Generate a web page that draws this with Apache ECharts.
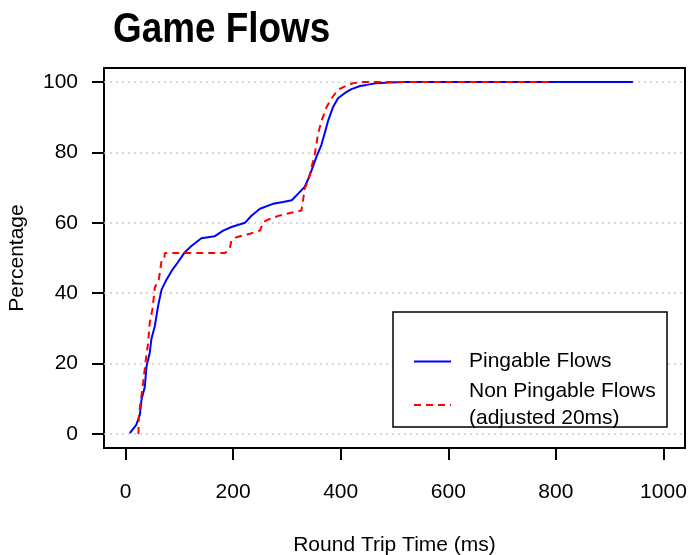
<!DOCTYPE html>
<html>
<head>
<meta charset="utf-8">
<script src="https://cdn.jsdelivr.net/npm/echarts@6/dist/echarts.min.js"></script>
<style>
html,body{margin:0;padding:0;background:#fff;}
#chart{width:688px;height:555px;}
</style>
</head>
<body>
<div id="chart"></div>
<script>
const titleText = 'Game Flows';
const xAxisTitle = 'Round Trip Time (ms)';
const yAxisTitle = 'Percentage';
const seriesNames = ['Pingable Flows', 'Non Pingable Flows\n(adjusted 20ms)'];
const xTicks = [0, 200, 400, 600, 800, 1000];
const yTicks = [0, 20, 40, 60, 80, 100];

const pingX = [8, 20, 26.6, 29.7, 36, 39, 45, 48, 54.5, 60.6, 67, 75, 86, 96, 110, 123, 141, 166, 181.5, 197, 222, 234, 250, 274, 293, 309, 321, 333, 340, 346, 355, 364, 371, 377, 386, 395, 408, 420, 436, 448, 467, 491, 520, 943];
const pingY = [0.2, 2.6, 5.4, 9.7, 13.5, 19.2, 23, 26.9, 30.7, 36.4, 41, 43.5, 46.4, 48.5, 51.6, 53.5, 55.6, 56.2, 57.8, 58.8, 60, 62, 64, 65.4, 65.9, 66.4, 68.3, 70.2, 72.6, 75, 78.8, 82.1, 85.9, 89.2, 93, 95.4, 96.9, 98, 98.9, 99.2, 99.7, 99.9, 100, 100];

const nonPingX = [24, 24.7, 28.5, 32.8, 37, 42, 45, 50, 53, 54.5, 62, 67, 72, 73, 185, 194, 197, 206, 231, 250, 256, 268, 287, 312, 327, 330, 333, 340, 352, 358, 364, 374, 383, 395, 408, 423, 439, 795];
const nonPingY = [0, 5, 9.7, 14.5, 20.2, 25.9, 31.6, 35.4, 35.9, 41.6, 44, 49.2, 49.7, 51.4, 51.4, 52.8, 55, 55.9, 56.9, 57.8, 60.2, 61.1, 62.1, 63, 63.5, 66.4, 69.7, 72.1, 79.7, 85.4, 88.8, 93, 95.4, 97.8, 98.8, 99.7, 100, 100];

const pairs = (xs, ys) => xs.map((x, i) => [x, ys[i]]);
const FONT = 'Liberation Sans, Arial, sans-serif';

const chart = echarts.init(document.getElementById('chart'), null, {renderer: 'canvas'});
chart.setOption({
  animation: false,
  backgroundColor: '#ffffff',
  grid: {
    left: 104, top: 68, width: 581, height: 380,
    show: true, borderColor: '#000', borderWidth: 2, backgroundColor: 'transparent',
    containLabel: false, outerBoundsMode: 'none'
  },
  xAxis: {
    type: 'value', min: -40, max: 1040,
    name: xAxisTitle, nameLocation: 'middle', nameGap: 87,
    nameTextStyle: {fontFamily: FONT, fontSize: 21, color: '#000'},
    axisLine: {show: false, onZero: false},
    axisTick: {show: true, inside: false, length: 12, customValues: xTicks, lineStyle: {color: '#000', width: 2}},
    axisLabel: {customValues: xTicks, margin: 34, fontFamily: FONT, fontSize: 21, color: '#000', formatter: v => String(v)},
    splitLine: {show: false}
  },
  yAxis: {
    type: 'value', min: -4, max: 104,
    name: yAxisTitle, nameLocation: 'middle', nameGap: 76, nameRotate: 90,
    nameTextStyle: {fontFamily: FONT, fontSize: 21, color: '#000'},
    axisLine: {show: false, onZero: false},
    axisTick: {show: true, inside: false, length: 12, customValues: yTicks, lineStyle: {color: '#000', width: 2}},
    axisLabel: {customValues: yTicks, margin: 26, fontFamily: FONT, fontSize: 21, color: '#000', formatter: v => String(v)},
    splitLine: {show: false}
  },
  legend: {
    orient: 'vertical', left: 413, top: 348, z: 6, padding: 0,
    itemWidth: 37, itemHeight: 14, itemGap: 3,
    itemStyle: {opacity: 0, borderWidth: 0},
    textStyle: {fontFamily: FONT, fontSize: 21, color: '#000', lineHeight: 27, padding: [0, 0, 0, 13]},
    data: seriesNames
  },
  graphic: [
    {
      type: 'rect', z: 4,
      shape: {x: 393, y: 312, width: 274, height: 115},
      style: {fill: '#fff', stroke: '#000', lineWidth: 1.5}
    },
    {
      type: 'text', z: 6, x: 113, y: 30, scaleX: 0.878, originX: 0, originY: 0,
      style: {text: titleText, font: 'bold 42px Liberation Sans, Arial, sans-serif', fill: '#000', verticalAlign: 'middle', align: 'left'}
    }
  ],
  series: [
    {
      name: seriesNames[0], type: 'line', data: pairs(pingX, pingY),
      showSymbol: false, symbol: 'none', z: 3,
      lineStyle: {color: '#0000ff', width: 2},
      itemStyle: {color: '#0000ff'},
      markLine: {
        silent: true, symbol: 'none', z: 1,
        label: {show: false},
        lineStyle: {color: '#cccccc', width: 1.5, type: [2, 4]},
        data: yTicks.map(v => ({yAxis: v}))
      }
    },
    {
      name: seriesNames[1], type: 'line', data: pairs(nonPingX, nonPingY),
      showSymbol: false, symbol: 'none', z: 3,
      lineStyle: {color: '#ff0000', width: 2, type: [7, 5]},
      itemStyle: {color: '#ff0000'}
    }
  ]
});
</script>
</body>
</html>
